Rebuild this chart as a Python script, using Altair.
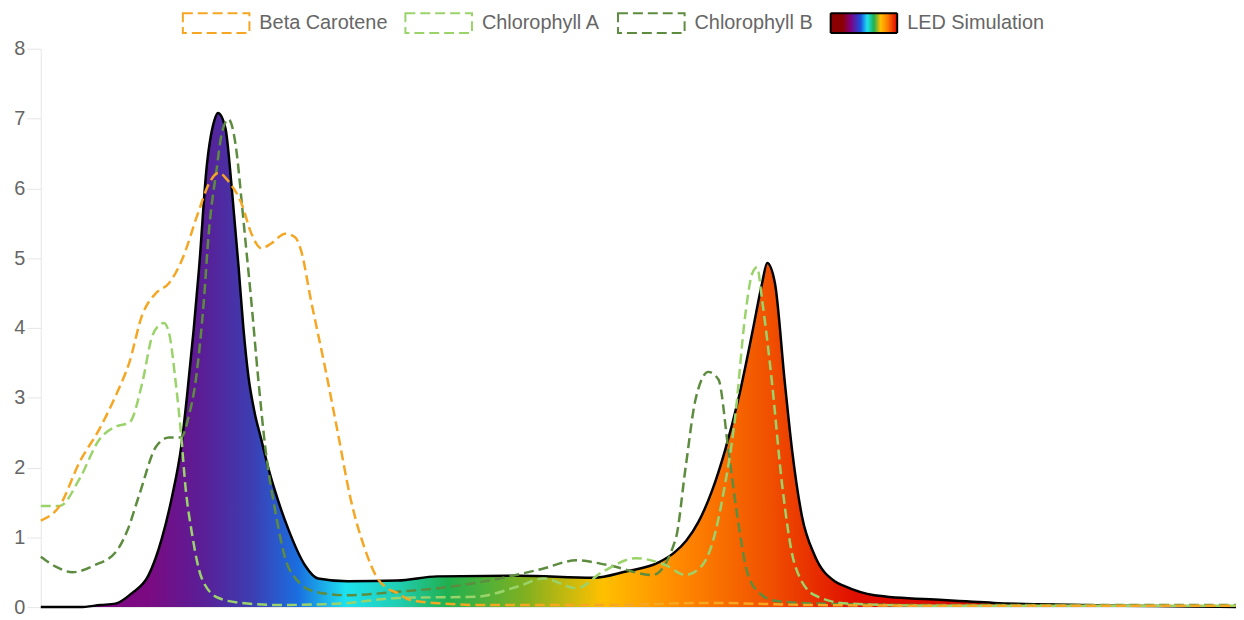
import altair as alt
import pandas as pd

SERIES = ["Beta Carotene", "Chlorophyll A", "Chlorophyll B", "LED Simulation"]
COLORS = ["#f5a623", "#9bd36b", "#5d8c3f", "#000000"]

led_nm = [380, 393, 400, 405, 410.5, 416, 420.5, 424, 427, 429, 433, 435.5, 438, 439.3, 441.8, 443.8,
          446.2, 447.8, 449.5, 451.5, 453.8, 456.1, 458.5, 462.8, 468.4, 472.8, 482.7, 499.4, 512.7, 540,
          565, 575.8, 586.8, 592, 596, 600.1, 604.5, 609.1, 613.4, 618.1, 621.4, 623.1, 625.7, 629,
          631.4, 634.7, 639, 645.7, 649, 659, 682, 699, 715, 742, 765, 780]
led_val = [0, 0, 0.03, 0.05, 0.2, 0.45, 0.98, 1.6, 2.3, 3.05, 4.87, 6.3, 6.96, 7.08, 6.86, 6.06,
           4.87, 4.0, 3.3, 2.8, 2.4, 2.0, 1.65, 1.12, 0.6, 0.41, 0.37, 0.38, 0.44, 0.45,
           0.42, 0.51, 0.64, 0.78, 0.95, 1.22, 1.65, 2.26, 2.97, 3.93, 4.64, 4.93, 4.64, 3.22,
           2.26, 1.31, 0.74, 0.37, 0.3, 0.17, 0.1, 0.06, 0.04, 0.02, 0.01, 0]

beta_nm = [380, 386.3, 393, 399.6, 405.3, 409.6, 413.9, 418.6, 422.9, 427.2, 432.9, 436.2, 439.5, 442.8,
           447.2, 450.5, 453.8, 457.1, 461.8, 465.1, 467.1, 470.4, 475.1, 479.4, 483.7, 488.4, 492.7,
           496, 499.4, 503.7, 515, 526, 570, 603, 637, 680, 780]
beta_val = [1.24, 1.45, 2.08, 2.55, 3.05, 3.5, 4.18, 4.5, 4.64, 4.97, 5.68, 6.06, 6.22, 6.1,
            5.78, 5.35, 5.14, 5.21, 5.35, 5.3, 5.11, 4.4, 3.44, 2.5, 1.55, 0.84, 0.41,
            0.27, 0.2, 0.1, 0.05, 0.03, 0.03, 0.06, 0.03, 0.02, 0.02]

chla_nm = [380, 386.3, 393, 399.6, 405.3, 409.6, 414, 417.2, 419.6, 421.2, 422.9, 425.2, 426.9, 428.5,
           430.5, 433.9, 439.5, 447.2, 459.5, 480, 499.4, 526, 540, 548.2, 559.2, 568.2, 579.2, 589.1,
           595.8, 601.4, 605.8, 608.1, 612.4, 615.7, 618.1, 619.7, 621.4, 624.7, 628, 632.4, 639, 650,
           680, 780]
chla_val = [1.45, 1.45, 1.84, 2.4, 2.59, 2.64, 3.22, 3.87, 4.04, 4.07, 3.93, 3.2, 2.5, 1.69,
            1.08, 0.41, 0.13, 0.06, 0.03, 0.05, 0.13, 0.15, 0.3, 0.41, 0.27, 0.51, 0.7, 0.6,
            0.46, 0.6, 1.08, 1.55, 2.73, 4.16, 4.78, 4.87, 4.4, 3.22, 1.79, 0.6, 0.17, 0.05,
            0.02, 0.02]

chlb_nm = [380, 385, 390.6, 398, 405.3, 409, 412.9, 418.6, 422.9, 426.9, 429.5, 431.9, 434.5, 436.2,
           438.9, 440.5, 442.8, 445.5, 447.2, 448.8, 450.2, 452.8, 455.1, 458.5, 461.8, 466.1, 471.8,
           482.7, 499.4, 515, 530, 548, 559.2, 570, 584.8, 592.5, 595.8, 599.1, 603.4, 606.8, 610.1,
           613.1, 616.7, 621.4, 625.7, 640, 680, 780]
chlb_val = [0.72, 0.58, 0.5, 0.6, 0.8, 1.1, 1.6, 2.3, 2.43, 2.43, 2.73, 3.26, 4.35, 5.35,
            6.29, 6.77, 6.99, 6.53, 5.82, 5.11, 4.5, 3.26, 2.3, 1.37, 0.7, 0.37, 0.22,
            0.17, 0.22, 0.28, 0.38, 0.55, 0.67, 0.6, 0.46, 0.98, 2.0, 2.97, 3.37, 3.26, 2.26,
            1.31, 0.46, 0.17, 0.09, 0.05, 0.03, 0.03]

area_stops = [(0.0, "#800080"), (0.09, "#7b0a82"), (0.135, "#5a1e96"), (0.175, "#3e3cb0"),
              (0.215, "#1a6ee0"), (0.255, "#1de2f0"), (0.30, "#20cdb0"), (0.34, "#20b050"),
              (0.405, "#80b020"), (0.47, "#ffc000"), (0.535, "#ff8800"), (0.61, "#f05000"),
              (0.68, "#e01000"), (1.0, "#e00000")]
legend_stops = [(0.0, "#8b0000"), (0.18, "#8b0000"), (0.3, "#800080"), (0.45, "#1a4ee0"),
                (0.55, "#1de2f0"), (0.65, "#20b050"), (0.75, "#ffc000"), (0.85, "#ff8000"),
                (1.0, "#e00000")]


def frame(name, xs, ys):
    return pd.DataFrame({"series": name, "nm": xs, "value": ys})


df = pd.concat([
    frame("Beta Carotene", beta_nm, beta_val),
    frame("Chlorophyll A", chla_nm, chla_val),
    frame("Chlorophyll B", chlb_nm, chlb_val),
    frame("LED Simulation", led_nm, led_val),
], ignore_index=True)

FONT = "Liberation Sans"

x = alt.X("nm:Q", scale=alt.Scale(domain=[380, 780], nice=False, zero=False),
          axis=alt.Axis(labels=False, ticks=False, title=None, grid=False,
                        domainColor="#e6e6e6", domainWidth=1))
y = alt.Y("value:Q", scale=alt.Scale(domain=[0, 8], nice=False),
          axis=alt.Axis(values=list(range(9)), title=None, grid=False, tickSize=14,
                        labelPadding=2, labelFontSize=20, labelFont=FONT, labelColor="#666666",
                        domainColor="#e6e6e6", tickColor="#e6e6e6"))

stops_js = ", ".join("{offset: %s, color: '%s'}" % (o, c) for o, c in legend_stops)
fill_expr = ("datum.value === 'LED Simulation' ? {gradient: 'linear', x1: 0, y1: 0, x2: 1, y2: 0, stops: [%s]} : '#ffffff'"
             % stops_js)

leg = alt.Legend(title=None, orient="none", direction="horizontal", legendX=142, legendY=-60.5,
                 symbolType="M-1,-0.2985H1V0.2985H-1Z", symbolSize=4489, symbolStrokeWidth=2,
                 symbolFillColor={"expr": fill_expr},
                 labelFont=FONT, labelFontSize=20, labelColor="#666666", labelOffset=9,
                 columnPadding=14, padding=0)

color = alt.Color("series:N", scale=alt.Scale(domain=SERIES, range=COLORS), legend=leg)
dash = alt.StrokeDash("series:N",
                      scale=alt.Scale(domain=SERIES, range=[[10, 5], [10, 5], [10, 5], [1, 0]]),
                      legend=leg)

base = alt.Chart(df)

area = base.transform_filter(alt.datum.series == "LED Simulation").mark_area(
    interpolate="monotone", opacity=1,
    color=alt.Gradient(gradient="linear",
                       stops=[alt.GradientStop(offset=o, color=c) for o, c in area_stops],
                       x1=0, x2=1, y1=0, y2=0)
).encode(x=x, y=y)

led_line = base.transform_filter(alt.datum.series == "LED Simulation").mark_line(
    interpolate="monotone", color="black", strokeWidth=2.5
).encode(x=x, y=y)


def dashed(name):
    return base.transform_filter(alt.datum.series == name).mark_line(
        interpolate="monotone", strokeWidth=2.5
    ).encode(x=x, y=y, color=color, strokeDash=dash)


chart = alt.layer(
    area, led_line, dashed("Chlorophyll B"), dashed("Chlorophyll A"), dashed("Beta Carotene")
).properties(
    width=1203, height=562,
    autosize=alt.AutoSizeParams(type="none"),
    padding={"left": 33, "top": 39, "right": 0, "bottom": 11},
    background="white",
).configure_view(stroke=None)

chart.save("out.html", embed_options={"renderer": "svg", "actions": False})
